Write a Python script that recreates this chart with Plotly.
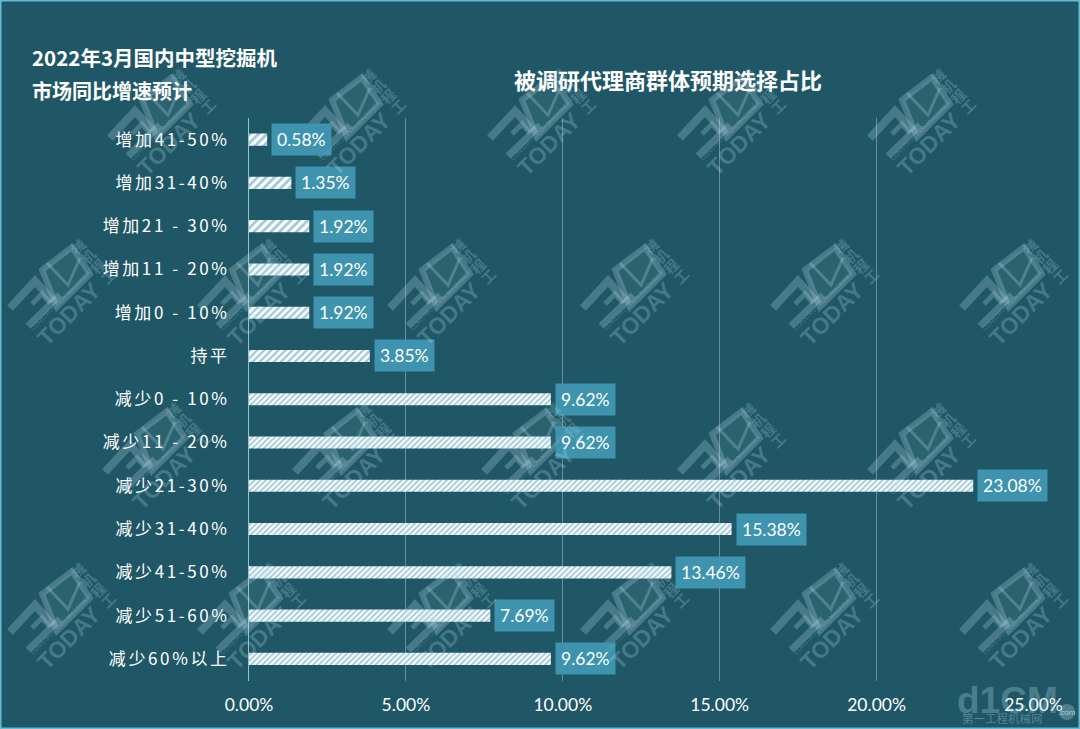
import plotly.graph_objects as go

categories = ["增加41-50%", "增加31-40%", "增加21 - 30%", "增加11 - 20%", "增加0 - 10%", "持平",
              "减少0 - 10%", "减少11 - 20%", "减少21-30%", "减少31-40%", "减少41-50%", "减少51-60%", "减少60%以上"]
values = [0.58, 1.35, 1.92, 1.92, 1.92, 3.85, 9.62, 9.62, 23.08, 15.38, 13.46, 7.69, 9.62]
x_ticks = [0, 5, 10, 15, 20, 25]
x_tick_text = ["0.00%", "5.00%", "10.00%", "15.00%", "20.00%", "25.00%"]
title_left = "2022年3月国内中型挖掘机"
title_left2 = "市场同比增速预计"
title_center = "被调研代理商群体预期选择占比"

W, H = 1080, 729
BG = "#1F5767"
BOX = "#3E93AE"
CJK = "Noto Sans CJK SC"
LAT = "Lato"
WM = "rgba(190,225,235,0.25)"

def px(x): return x / W
def py(y): return 1 - y / H

fig = go.Figure(go.Bar(
    x=values, y=categories, orientation="h", width=0.28,
    marker=dict(color="white", line_width=0,
                pattern=dict(shape="/", bgcolor="white", fgcolor="#3A8FAD",
                             size=[6, 6, 6, 5, 5, 5, 4, 4, 4, 4, 4, 4, 4], solidity=0.45)),
    hoverinfo="skip"))

ann = []
for c, v in zip(categories, values):
    ann.append(dict(x=v, y=c, xref="x", yref="y", text=f"{v:.2f}%", showarrow=False,
                    xanchor="left", xshift=4, bgcolor=BOX, borderpad=5,
                    font=dict(family=LAT, size=17.5, color="white")))

def free(x, y, text, size, color="white", fam=CJK, angle=0, xa="center", ya="middle"):
    ann.append(dict(x=px(x), y=py(y), xref="paper", yref="paper", text=text, showarrow=False,
                    xanchor=xa, yanchor=ya, textangle=angle, font=dict(family=fam, size=size, color=color)))

free(30, 57, f"<b>{title_left}</b>", 20.5, xa="left")
free(30, 90, f"<b>{title_left2}</b>", 20, xa="left")
free(668, 79, "<b>" + title_center + "</b>", 22, color="white")

shapes = [dict(type="rect", xref="paper", yref="paper", x0=0, x1=1, y0=0, y1=1,
               line=dict(color="#63BCD2", width=3), layer="above", fillcolor="rgba(0,0,0,0)")]

def path(cx, cy, pts, close=False):
    d = "M" + " L".join(f"{px(cx + a):.5f},{py(cy + b):.5f}" for a, b in pts)
    return d + (" Z" if close else "")

marks = [(x, 118) for x in (160, 350, 540, 730, 920)] + \
        [(x, 288) for x in (60, 250, 440, 633, 823, 1012)] + \
        [(x, 452) for x in (155, 345, 534, 730, 920)] + \
        [(x, 612) for x in (60, 250, 440, 633, 823, 1012)]

for cx, cy in marks:
    for pts, close, w in [
        ([(-18, -18), (12, -41), (30, -14), (-3, 19)], True, 6),
        ([(-13, -25), (8, -3), (20, -30)], False, 3),
        ([(-50, 20), (-25, -7), (-7, 13)], False, 8),
        ([(-28, 16), (-18, 6), (-10, 15)], False, 5),
        ([(-32, 38), (0, 7)], False, 7),
    ]:
        shapes.append(dict(type="path", xref="paper", yref="paper", path=path(cx, cy, pts, close),
                           fillcolor="rgba(190,225,235,0.08)" if close else None,
                           line=dict(color=WM, width=w), layer="above"))
    free(cx + 9, cy + 26, "<b>TODAY</b>", 23, color=WM, fam="Liberation Sans", angle=-45)
    free(cx + 2, cy + 11, "CONSTRUCTION MACHINERY", 6, color=WM, fam="Liberation Sans", angle=-45)
    for i, ch in enumerate("械机程工"):
        free(cx + 18 + 10 * i, cy - 42 + 10 * i, f"<b>{ch}</b>", 14, color=WM, angle=-45)

# bottom-right site mark
free(1007, 700, "<b>d1CM</b>", 37, color="rgba(190,225,235,0.3)", fam="Liberation Sans")
free(1002, 718, "第一工程机械网", 11.5, color="rgba(190,225,235,0.35)")
shapes.append(dict(type="circle", xref="paper", yref="paper", x0=px(1059), x1=px(1075), y0=py(720), y1=py(704),
                   fillcolor="rgba(190,225,235,0.3)", line_width=0, layer="above"))
free(1067, 712, ".com", 8, color="rgba(255,255,255,0.6)", fam="Liberation Sans")

fig.update_layout(
    width=W, height=H, margin=dict(l=0, r=0, t=0, b=0, autoexpand=False), paper_bgcolor=BG, plot_bgcolor=BG,
    showlegend=False, annotations=ann, shapes=shapes,
    xaxis=dict(domain=[px(249), px(1033.5)], range=[0, 25], tickvals=x_ticks, ticktext=x_tick_text,
               showgrid=True, gridcolor="rgba(255,255,255,0.33)", gridwidth=1, zeroline=False, showline=False,
               ticks="", ticklabelstandoff=12, automargin=False, tickfont=dict(family=LAT, size=17.5, color="white")),
    yaxis=dict(domain=[py(680.5), py(118)], autorange="reversed", type="category", showgrid=False, zeroline=False,
               showline=True, linecolor="#8CC5D6", linewidth=1, ticks="", ticklabelstandoff=15, automargin=False,
               tickfont=dict(family=CJK, size=17, color="white")),
)

post = """
var s=document.createElement('style');
s.textContent='html,body{margin:0;padding:0;overflow:hidden;background:#1F5767}.ytick text{letter-spacing:2.6px}';
document.head.appendChild(s);
"""
fig.write_html("out.html", post_script=post, config={"displayModeBar": False})
